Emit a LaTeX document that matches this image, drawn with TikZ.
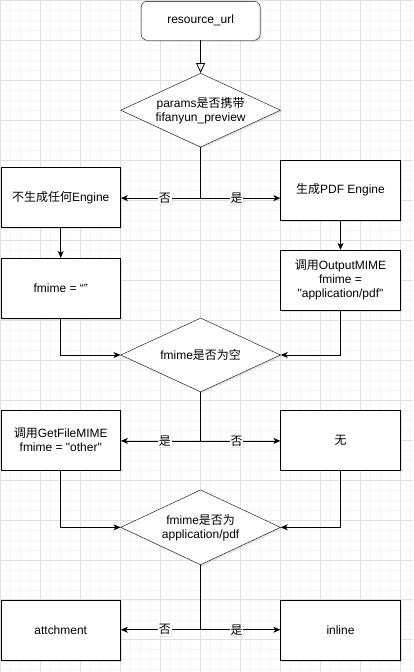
\documentclass[tikz,border=0pt]{standalone}
\usepackage{fontspec}
\setmainfont{Liberation Sans}
\newfontfamily\cjk{Noto Sans CJK SC}
\usetikzlibrary{shapes}
\usetikzlibrary{positioning}
\usetikzlibrary{arrows.meta}
\usetikzlibrary{shadows}

\begin{document}
\begin{tikzpicture}[
    x=1pt, y=-1pt,
    font=\fontsize{12}{14}\selectfont
]
\tikzset{
    mynode/.style = {rectangle, draw=black, align=center, fill=white, inner sep=0pt,
        minimum width=120pt, minimum height=60pt,
        drop shadow={shadow xshift=1.5pt, shadow yshift=-1.5pt, opacity=0.2}},
    myroot/.style = {mynode, rounded corners=6pt, minimum width=119pt, minimum height=39pt},
    mydiamond/.style = {diamond, draw=black, align=center, fill=white, inner sep=0pt,
        aspect=2.16, minimum width=160pt, minimum height=74pt,
        drop shadow={shadow xshift=1.5pt, shadow yshift=-1.5pt, opacity=0.2}},
    edgen/.style = {-, thick},
    edger/.style = {-{Stealth[length=7pt,width=6pt,inset=2pt]}, thick},
    edgeo/.style = {-{Triangle[open,length=10pt,width=9pt]}, thick},
    lbl/.style = {fill=white, inner sep=1pt, pos=0.45,
        drop shadow={shadow xshift=1pt, shadow yshift=-1pt, opacity=0.15}},
    minorgrid/.style = {draw=black!4, line width=0.5pt},
    majorgrid/.style = {draw=black!12, line width=0.6pt}
}
% background grid
\fill[white] (0,0) rectangle (413,672);
\foreach \x in {0,10,...,410} \draw[minorgrid] (\x,0) -- (\x,672);
\foreach \y in {0,10,...,670} \draw[minorgrid] (0,\y) -- (413,\y);
\foreach \x in {0,40,...,400} \draw[majorgrid] (\x,0) -- (\x,672);
\foreach \y in {0,40,...,640} \draw[majorgrid] (0,\y) -- (413,\y);
\useasboundingbox (0,0) rectangle (413,672);

\node[myroot] at (200.5,20.5) (url) {resource\_url};
\node[mydiamond] at (200.5,110) (q1) {params{\cjk 是否携带}\\fifanyun\_preview};
\node[mynode] at (60.5,197.5) (noeng) {{\cjk 不生成任何}Engine};
\node[mynode] at (340.5,190) (pdfeng) {{\cjk 生成}PDF Engine};
\node[mynode] at (60.5,288) (fempty) {fmime = “”};
\node[mynode] at (340.5,280) (outmime) {{\cjk 调用}OutputMIME\\fmime =\\\textquotedbl application/pdf\textquotedbl};
\node[mydiamond] at (200.5,355) (q2) {fmime{\cjk 是否为空}};
\node[mynode] at (60.5,440) (getmime) {{\cjk 调用}GetFileMIME\\fmime = \textquotedbl other\textquotedbl};
\node[mynode] at (340.5,440) (none) {{\cjk 无}};
\node[mydiamond, minimum height=75pt] at (200.5,527.5) (q3) {fmime{\cjk 是否为}\\application/pdf};
\node[mynode] at (60.5,630.5) (attach) {attchment};
\node[mynode] at (340.5,630.5) (inline) {inline};

\coordinate (j1) at (200.5,198);
\coordinate (j2) at (200.5,441);
\coordinate (j3) at (200.5,630);

\draw[edgeo] (url) -- (q1);
\draw[edgen] (q1) -- (j1);
\draw[edger] (j1) -- node[lbl] {\cjk 否} (noeng.east |- j1);
\draw[edger] (j1) -- node[lbl] {\cjk 是} (pdfeng.west |- j1);
\draw[edger] (noeng) -- (fempty);
\draw[edger] (pdfeng) -- (outmime);
\draw[edger] (fempty.south) |- (q2.west);
\draw[edger] (outmime.south) |- (q2.east);
\draw[edgen] (q2) -- (j2);
\draw[edger] (j2) -- node[lbl] {\cjk 是} (getmime.east |- j2);
\draw[edger] (j2) -- node[lbl] {\cjk 否} (none.west |- j2);
\draw[edger] (getmime.south) |- (q3.west);
\draw[edger] (none.south) |- (q3.east);
\draw[edgen] (q3) -- (j3);
\draw[edger] (j3) -- node[lbl] {\cjk 否} (attach.east |- j3);
\draw[edger] (j3) -- node[lbl] {\cjk 是} (inline.west |- j3);
\end{tikzpicture}
\end{document}
